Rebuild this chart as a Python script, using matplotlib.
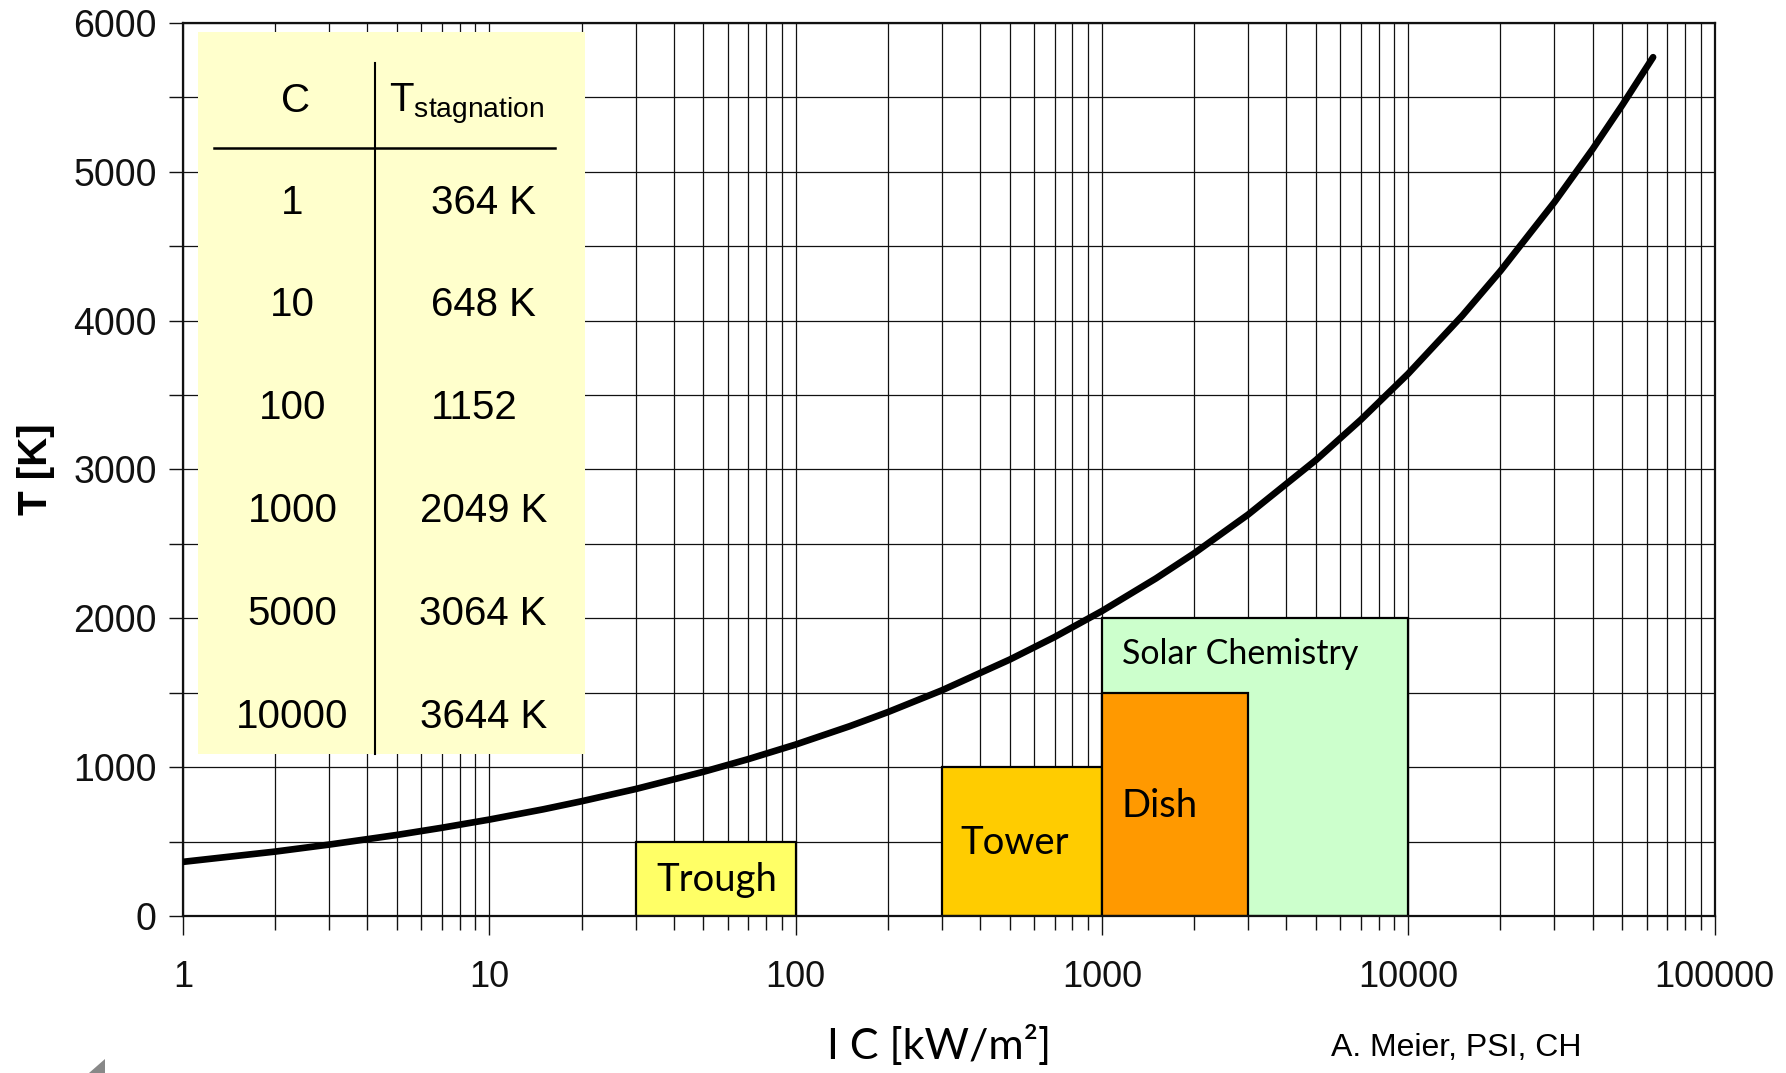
import numpy as np
import matplotlib
matplotlib.use("Agg")
import matplotlib.pyplot as plt
from matplotlib.patches import Rectangle, Polygon
from matplotlib.ticker import MultipleLocator, LogLocator, FixedLocator, NullFormatter

plt.rcParams["font.family"] = ["Liberation Sans", "DejaVu Sans"]
plt.rcParams["mathtext.fontset"] = "custom"
plt.rcParams["mathtext.rm"] = "Liberation Sans"
plt.rcParams["mathtext.it"] = "Liberation Sans:italic"

# ==========================================
# Data
# ==========================================

# stagnation temperature curve (C, T in K)
curve_c = [1, 2, 3, 5, 7, 10, 15, 20, 30, 50, 70, 100, 150, 200, 300, 500, 700,
           1000, 1500, 2000, 3000, 5000, 7000, 10000, 15000, 20000, 30000,
           40000, 50000, 63000]
curve_t = [364, 433, 480, 545, 593, 648, 717, 771, 853, 969, 1054, 1152, 1275,
           1370, 1516, 1723, 1874, 2049, 2268, 2437, 2697, 3064, 3334, 3644,
           4033, 4334, 4796, 5153, 5449, 5770]

# concentrator ranges: name, C from, C to, T max
box_names = ["Solar Chemistry", "Trough", "Tower", "Dish"]
box_c_lo = [1000, 30, 300, 1000]
box_c_hi = [10000, 100, 1000, 3000]
box_t_hi = [2000, 500, 1000, 1500]
box_colors = ["#CCFFCC", "#FFFF66", "#FFCC00", "#FF9900"]

# label anchor (left x, centre y) in data units
box_label_c = [1160, 35, 345, 1160]
box_label_t = [1760, 245, 490, 740]

# table in the upper left
table_c = ["1", "10", "100", "1000", "5000", "10000"]
table_t = ["364 K", "648 K", "1152", "2049 K", "3064 K", "3644 K"]

x_ticks = [1, 10, 100, 1000, 10000, 100000]
x_tick_labels = ["1", "10", "100", "1000", "10000", "100000"]

# ==========================================
# Figure
# ==========================================

fig = plt.figure(figsize=(17.86, 10.73), dpi=100)
ax = fig.add_axes([0.1025, 0.1463, 0.8575, 0.8323])

ax.set_xscale("log")
ax.set_xlim(1, 100000)
ax.set_ylim(0, 6000)

ax.yaxis.set_major_locator(MultipleLocator(1000))
ax.yaxis.set_minor_locator(MultipleLocator(500))
ax.xaxis.set_major_locator(FixedLocator(x_ticks))
ax.set_xticklabels(x_tick_labels)
ax.xaxis.set_minor_locator(LogLocator(base=10, subs=np.arange(2, 10)))
ax.xaxis.set_minor_formatter(NullFormatter())

ax.grid(which="both", color="#111111", linewidth=0.9, zorder=0)
ax.set_axisbelow(True)

for s in ax.spines.values():
    s.set_linewidth(1.6)
    s.set_color("#111111")

ax.tick_params(axis="x", which="major", length=14, width=1, pad=18,
               labelsize=26, colors="#111111")
ax.tick_params(axis="x", which="minor", length=10, width=1, colors="#111111")
ax.tick_params(axis="y", which="both", length=10, width=1, pad=9,
               labelsize=27, colors="#111111")

# boxes
for name, lo, hi, th, col, lc, lt in zip(box_names, box_c_lo, box_c_hi, box_t_hi,
                                         box_colors, box_label_c, box_label_t):
    ax.add_patch(Rectangle((lo, 0), hi - lo, th, facecolor=col,
                           edgecolor="black", linewidth=1.6, zorder=2))
    size = 24.5 if name == "Solar Chemistry" else 27.5
    ax.text(lc, lt, name, fontsize=size, family="Lato", ha="left",
            va="center", zorder=3)

# curve
ax.plot(curve_c, curve_t, color="black", linewidth=4.8,
        solid_capstyle="round", solid_joinstyle="round", zorder=4)

# table
ax.add_patch(Rectangle((0.0097, 0.181), 0.253, 0.809, transform=ax.transAxes,
                       facecolor="#FFFFCC", edgecolor="none", zorder=5))
ax.plot([0.020, 0.243], [0.860, 0.860], transform=ax.transAxes,
        color="black", linewidth=1.8, zorder=6)
ax.plot([0.125, 0.125], [0.181, 0.955], transform=ax.transAxes,
        color="black", linewidth=1.5, zorder=6)
ax.text(0.0736, 0.913, "C", transform=ax.transAxes, fontsize=29,
        ha="center", va="center", zorder=7)
ax.text(0.185, 0.910, r"T$_{\mathrm{stagnation}}$", transform=ax.transAxes,
        fontsize=29, ha="center", va="center", zorder=7)
row_y = [0.798, 0.684, 0.569, 0.454, 0.338, 0.223]
for cv, tv, ry in zip(table_c, table_t, row_y):
    ax.text(0.0714, ry, cv, transform=ax.transAxes, fontsize=29,
            ha="center", va="center", zorder=7)
    tx = 0.190 if tv == "1152" else 0.196
    ax.text(tx, ry, tv, transform=ax.transAxes, fontsize=29,
            ha="center", va="center", zorder=7)

# labels
fig.text(0.020, 0.5625, "T [K]", fontsize=29, fontweight="bold",
         rotation=90, ha="center", va="center")
fig.text(0.526, 0.026, "I C [kW/m²]", fontsize=31, family="Lato",
         ha="center", va="center")

fig.text(0.745, 0.023, "A. Meier, PSI, CH", fontsize=23, ha="left", va="center")

# little grey corner mark
fig.patches.append(Polygon([[0.050, 0.0], [0.0588, 0.0], [0.0588, 0.013]],
                           closed=True, transform=fig.transFigure,
                           facecolor="#888888", edgecolor="none"))

fig.savefig("out.png", dpi=100)
